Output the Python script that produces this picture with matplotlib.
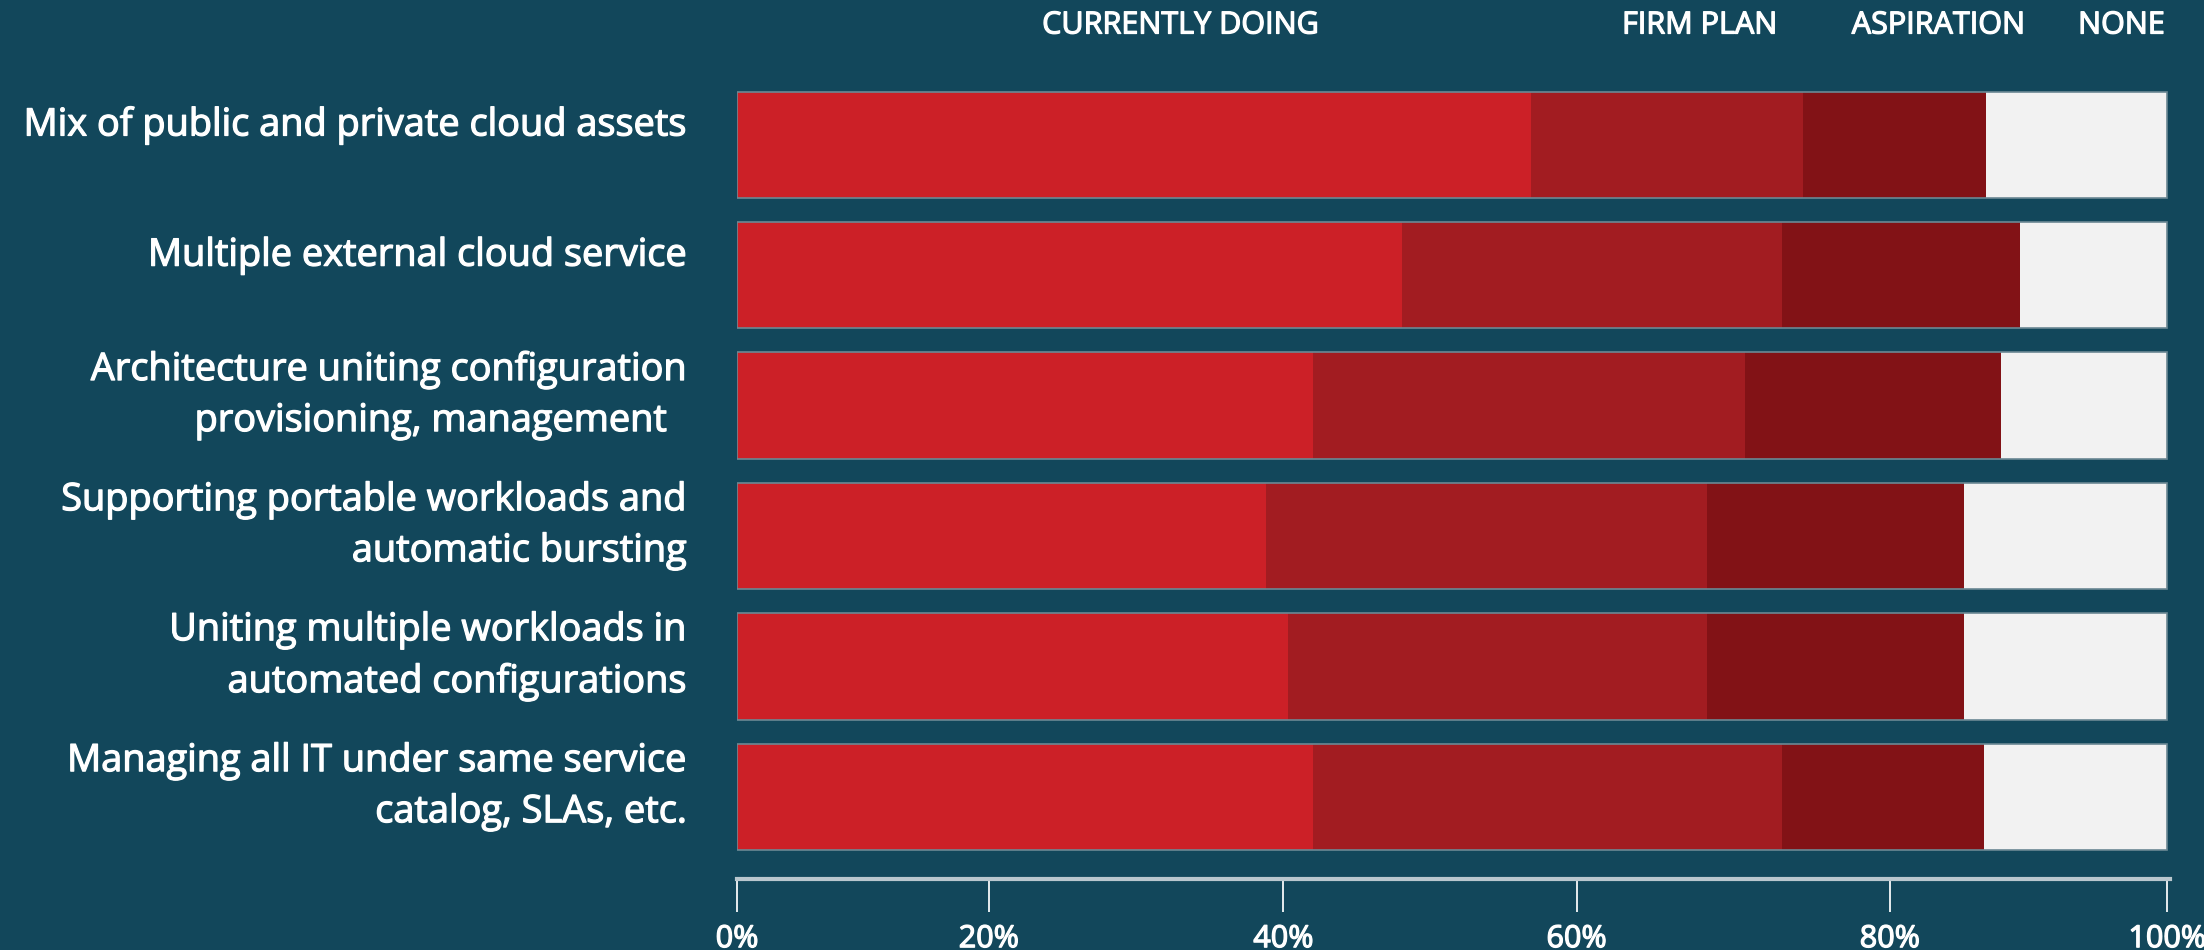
import numpy as np
import matplotlib
matplotlib.use("Agg")
import matplotlib.pyplot as plt
import matplotlib.patheffects as pe
from matplotlib.transforms import blended_transform_factory

# survey answers, percent of respondents
labels = [
    "Mix of public and private cloud assets",
    "Multiple external cloud service",
    "Architecture uniting configuration\nprovisioning, management  ",
    "Supporting portable workloads and\nautomatic bursting",
    "Uniting multiple workloads in\nautomated configurations",
    "Managing all IT under same service\ncatalog, SLAs, etc.",
]
currently = [55.5, 46.5, 40.3, 37.0, 38.5, 40.3]
firm_plan = [19.0, 26.6, 30.2, 30.8, 29.3, 32.8]
aspiration = [12.8, 16.6, 17.9, 18.0, 18.0, 14.1]
none = [12.7, 10.3, 11.6, 14.2, 14.2, 12.8]

series_names = ["CURRENTLY DOING", "FIRM PLAN", "ASPIRATION", "NONE"]
header_x = [31.0, 67.3, 84.0, 96.8]   # where the column names sit

# the x axis of the original has uneven tick spacing
tick_pos = [0, 17.6, 38.2, 58.7, 80.6, 100]
tick_labels = ["0%", "20%", "40%", "60%", "80%", "100%"]

bg = "#12475b"
colors = ["#cc2027", "#a21c21", "#821216", "#f2f2f2"]

plt.rcParams['font.family'] = ['Open Sans', 'DejaVu Sans']
thick = [pe.withStroke(linewidth=0.9, foreground="white")]   # a bit heavier text

fig = plt.figure(figsize=(22.04, 9.5), dpi=100, facecolor=bg)
ax = fig.add_axes([0.3344, 0.0747, 0.6502, 0.8416])
ax.set_facecolor(bg)

y = np.arange(len(labels))
h = 0.816
left = np.zeros(len(labels))
for vals, c in zip([currently, firm_plan, aspiration, none], colors):
    ax.barh(y, vals, left=left, height=h, color=c, linewidth=0)
    left = left + np.array(vals)

# thin light rim on top and bottom of every bar
ax.barh(y, left, height=h, facecolor="none", edgecolor="#6b8894", linewidth=1.2)

ax.set_xlim(0, 100.2)
ax.set_ylim(len(labels) - 1 + 0.628, -0.5)

for i, lab in enumerate(labels):
    off = 0.08 if "\n" in lab else 0.15
    ax.text(-3.5, i - off, lab, ha="right", va="center", color="white",
            fontsize=27.3, linespacing=1.45, path_effects=thick)

tr = blended_transform_factory(ax.transData, fig.transFigure)
for name, xp in zip(series_names, header_x):
    fig.text(xp, 1 - 25.5 / 950, name, transform=tr, ha="center", va="center",
             color="white", fontsize=22, path_effects=thick)

for s in ["top", "left", "right"]:
    ax.spines[s].set_visible(False)
ax.spines["bottom"].set_color("#b9c7ce")
ax.spines["bottom"].set_linewidth(3)
ax.set_yticks([])
ax.set_xticks(tick_pos)
ax.set_xticklabels(tick_labels)
for t in ax.get_xticklabels():
    t.set_path_effects(thick)
ax.tick_params(axis="x", direction="out", length=24, width=1.4, color="#e6ecef",
               labelcolor="white", labelsize=22, pad=8.5)

fig.savefig("out.png", dpi=100, facecolor=bg)
